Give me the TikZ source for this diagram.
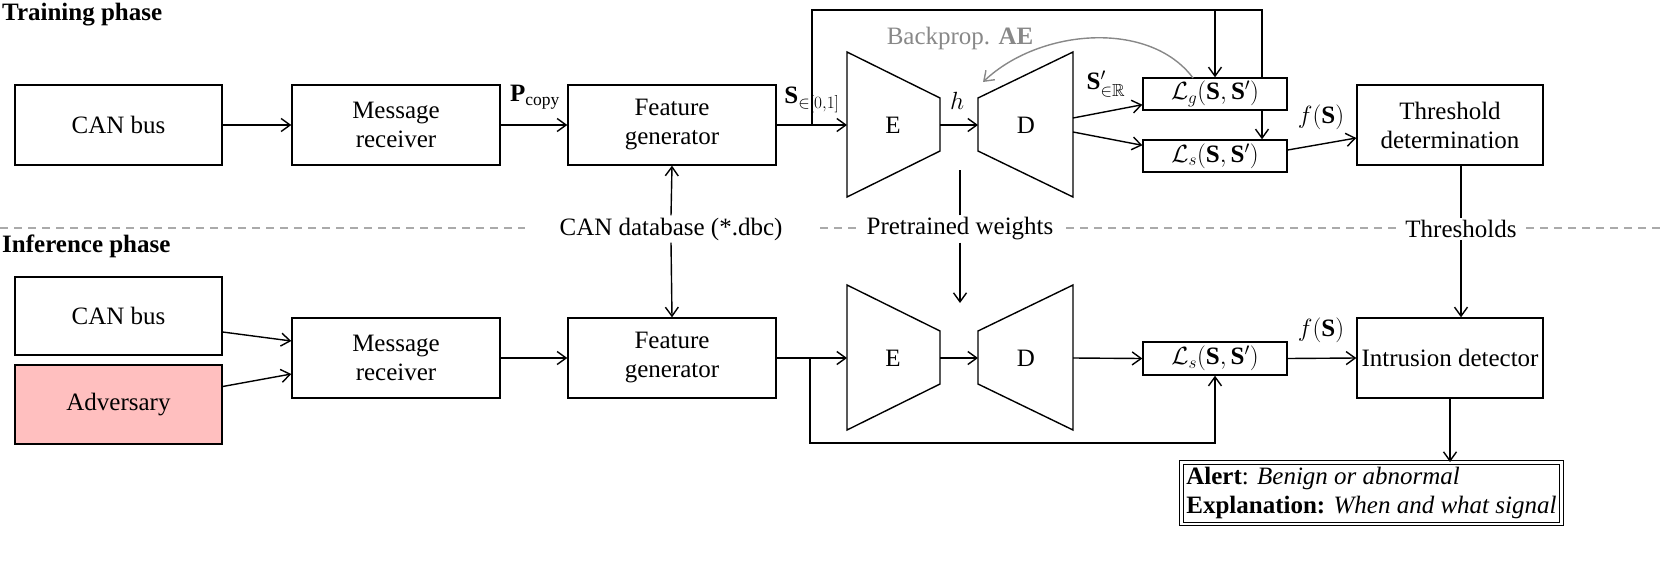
\documentclass[tikz,border=0pt]{standalone}
\usepackage{amsmath,amssymb}
\usepackage{fontspec}
\setmainfont{Liberation Serif}
\usetikzlibrary{arrows.meta,calc}
\definecolor{advpink}{HTML}{FFBFBF}
\definecolor{bpgray}{HTML}{888888}
\definecolor{dashgray}{HTML}{AAAAAA}
\begin{document}
\begin{tikzpicture}[x=1pt,y=-1pt,
  every node/.style={font=\fontsize{25}{29}\selectfont},
  box/.style={draw, line width=1.4pt, minimum width=207pt, minimum height=80pt, align=center, inner sep=0pt, fill=white},
  lossbox/.style={draw, line width=1.4pt, minimum width=144pt, minimum height=32pt, inner sep=0pt, fill=white},
  conn/.style={line width=1.4pt},
  arr/.style={line width=1.4pt, -{Straight Barb[length=9pt,width=13pt]}},
  trap/.style={draw, line width=1.4pt},
  lbl/.style={inner sep=2pt},
  dashline/.style={dashgray, line width=1.2pt, dash pattern=on 8pt off 6pt}
]
\useasboundingbox (0,0) rectangle (1661,573);

% phase titles
\node[anchor=west, font=\fontsize{25}{29}\selectfont\bfseries, inner sep=0pt] (trainlbl) at (2,15) {Training phase};
\node[anchor=west, font=\fontsize{25}{29}\selectfont\bfseries, inner sep=0pt] (inflbl) at (2,246) {Inference phase};

% dashed separator
\draw[dashline] (0,228) -- (525,228);
\draw[dashline] (820,228) -- (858,228);
\draw[dashline] (1066,228) -- (1396,228);
\draw[dashline] (1526,228) -- (1661,228);
\node[lbl] (dbc) at (671,229) {CAN database (*.dbc)};
\node[lbl] (pre) at (960,229) {Pretrained weights};
\node[lbl] (thres) at (1461,229) {Thresholds};

% ---------- training row ----------
\node[box] (cbT) at (118.5,125) {CAN bus};
\node[box, minimum width=208pt] (mrT) at (396,125) {Message\\receiver};
\node[box, minimum width=208pt] (fgT) at (672,125) {Feature\\generator};
\node[box, minimum width=186pt] (thr) at (1450,125) {Threshold\\determination};

% feedback line (behind L_g box)
\coordinate (fbT) at (812,125);
\coordinate (topR) at (1262,10);
\coordinate (topM) at (1215,10);

\node[lossbox] (lg) at (1215,94) {$\mathcal{L}_g(\mathbf{S},\mathbf{S}')$};
\node[lossbox] (ls1) at (1215,156) {$\mathcal{L}_s(\mathbf{S},\mathbf{S}')$};

\draw[conn] (fbT) |- (topR) -- (topR |- lg.north);
\draw[arr] (topR |- lg.south) -- (topR |- ls1.north);
\draw[arr] (topM) -- (lg.north);

% encoder / decoder (training)
\draw[trap] (847,52) -- (940,98) -- (940,151) -- (847,197) -- cycle;
\draw[trap] (978,98) -- (1073,52) -- (1073,197) -- (978,151) -- cycle;
\node (ET) at (893,125) {E};
\node (DT) at (1026,125) {D};
\coordinate (ETin) at (847,125);
\coordinate (ETout) at (940,125);
\coordinate (DTin) at (978,125);
\coordinate (DTa) at (1073,118);
\coordinate (DTb) at (1073,132);

\draw[arr] (cbT) -- (mrT);
\draw[arr] (mrT) -- (fgT);
\node[lbl] (pcopy) at (535,97) {$\mathbf{P}_{\text{copy}}$};
\draw[arr] (fgT.east) -- (ETin);
\node[lbl] (slbl) at (812,100) {$\mathbf{S}_{\in[0,1]}$};
\draw[arr] (ETout) -- (DTin);
\node[lbl] (hlbl) at (957,101) {$h$};
\draw[arr] (DTa) -- ($(lg.south west)+(0,-6)$);
\draw[arr] (DTb) -- ($(ls1.north west)+(0,6)$);
\node[lbl] (sprime) at (1106,84) {$\mathbf{S}'_{\in\mathbb{R}}$};
\draw[arr] ($(ls1.east)+(0,-6)$) -- ($(thr.west)+(0,13)$);
\node[lbl] (fs1) at (1321,117) {$f(\mathbf{S})$};

% backprop
\node[bpgray, lbl] (bp) at (960,38) {Backprop. $\mathbf{AE}$};
\coordinate (bpS) at (1193,78);
\coordinate (bpE) at (983,82);
\draw[bpgray, line width=1.4pt, -{Straight Barb[length=9pt,width=13pt]}] (bpS) .. controls (1150,20) and (1040,28) .. (bpE);

% vertical links through separator
\draw[arr] (dbc.north) -- (fgT.south);
\draw[conn] (pre.north) -- (960,170);
\draw[conn] (thr.south -| thres.north) -- (thres.north);

% ---------- inference row ----------
\node[box, minimum height=78pt] (cbB) at (118.5,316) {CAN bus};
\node[box, minimum height=79pt, fill=advpink] (adv) at (118.5,404.5) {Adversary};
\node[box, minimum width=208pt] (mrB) at (396,358) {Message\\receiver};
\node[box, minimum width=208pt] (fgB) at (672,358) {Feature\\generator};
\node[lossbox, minimum height=33pt] (ls2) at (1215,358.5) {$\mathcal{L}_s(\mathbf{S},\mathbf{S}')$};
\node[box, minimum width=186pt] (idet) at (1450,358) {Intrusion detector};

\draw[trap] (847,285) -- (940,331) -- (940,384) -- (847,430) -- cycle;
\draw[trap] (978,331) -- (1073,285) -- (1073,430) -- (978,384) -- cycle;
\node (EB) at (893,358) {E};
\node (DB) at (1026,358) {D};
\coordinate (EBin) at (847,358);
\coordinate (EBout) at (940,358);
\coordinate (DBin) at (978,358);
\coordinate (DBout) at (1073,358);
\coordinate (brB) at (810,358);

\draw[arr] ($(cbB.east)+(0,16)$) -- ($(mrB.west)+(0,-17)$);
\draw[arr] ($(adv.east)+(0,-18)$) -- ($(mrB.west)+(0,16)$);
\draw[arr] (mrB) -- (fgB);
\draw[arr] (fgB.east) -- (EBin);
\draw[arr] (brB) |- (1215,443) -- (ls2.south);
\draw[arr] (EBout) -- (DBin);
\draw[arr] (DBout) -- (ls2.west);
\draw[arr] (ls2.east) -- (idet.west);
\node[lbl] (fs2) at (1321,330) {$f(\mathbf{S})$};

\draw[arr] (dbc.south) -- (fgB.north);
\draw[arr] (pre.south) -- (960,303);
\draw[arr] (thres.south) -- (thres.south |- idet.north);

% alert box
\node[draw, double, double distance=2.5pt, line width=1pt, align=left, inner sep=5pt, anchor=north east] (alert) at (1562,462)
  {\textbf{Alert}: \textit{Benign or abnormal}\\\textbf{Explanation:} \textit{When and what signal}};
\draw[arr] (idet.south) -- (idet.south |- alert.north);

\end{tikzpicture}
\end{document}
